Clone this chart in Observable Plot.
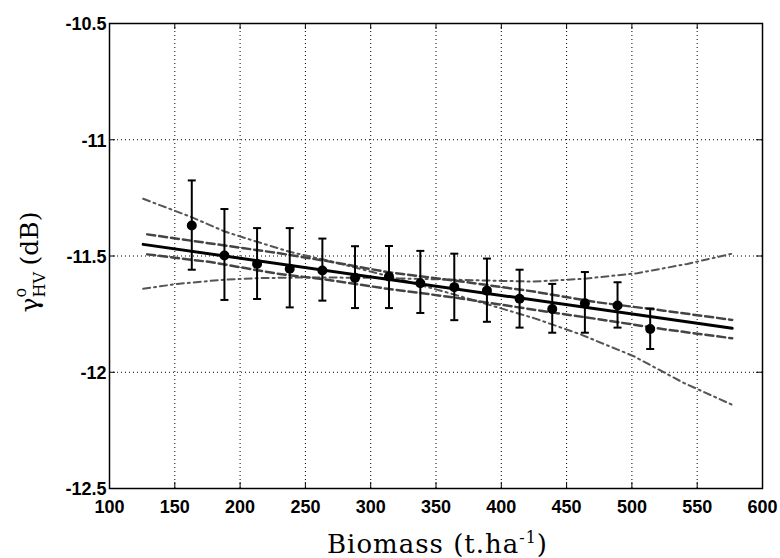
<!DOCTYPE html>
<html>
<head>
<meta charset="utf-8">
<script src="https://cdn.jsdelivr.net/npm/d3@7"></script>
<script src="https://cdn.jsdelivr.net/npm/@observablehq/plot@0.6"></script>
<style>
  html, body { margin: 0; padding: 0; background: #fff; }
</style>
</head>
<body>
<div id="chart"></div>
<script>
// ---- data ----
const xTicks = [100, 150, 200, 250, 300, 350, 400, 450, 500, 550, 600];
const yTicks = [-12.5, -12, -11.5, -11, -10.5];
const yTickLabels = ["-12.5", "-12", "-11.5", "-11", "-10.5"];

// binned means with error bars
const biomass = [163, 188, 213, 238, 263, 288, 314, 338, 364, 389, 414, 439, 464, 489, 514];
const gamma   = [-11.369, -11.498, -11.534, -11.555, -11.562, -11.594, -11.588, -11.617, -11.634, -11.649, -11.684, -11.728, -11.703, -11.713, -11.814];
const errTop  = [-11.175, -11.298, -11.38, -11.38, -11.425, -11.458, -11.457, -11.478, -11.49, -11.511, -11.559, -11.62, -11.569, -11.613, -11.726];
const errBot  = [-11.559, -11.689, -11.685, -11.721, -11.692, -11.724, -11.724, -11.745, -11.776, -11.783, -11.808, -11.83, -11.83, -11.808, -11.9];

// regression line
const fitX = [125.8, 576.8];
const fitY = [-11.45, -11.811];

// confidence band (dashed)
const bandX     = [128.9, 177.3, 228.4, 266.7, 312.6, 363.6, 424.9, 473.4, 524.4, 576.8];
const bandUpper = [-11.407, -11.446, -11.487, -11.522, -11.569, -11.605, -11.653, -11.699, -11.735, -11.775];
const bandLower = [-11.493, -11.526, -11.576, -11.602, -11.641, -11.678, -11.731, -11.771, -11.815, -11.854];

// dash-dot curves
const ddFallX = [125.8, 162, 188.8, 213.1, 238.6, 266.7, 312.6, 363.6, 424.9, 460.6, 501.4, 539.7, 576.8];
const ddFallY = [-11.254, -11.331, -11.396, -11.439, -11.483, -11.519, -11.585, -11.665, -11.767, -11.837, -11.931, -12.046, -12.14];
const ddRiseX = [125.8, 151.8, 185, 215.6, 253.9, 300, 350, 400, 424.9, 463.2, 504.1, 542.4, 576.8];
const ddRiseY = [-11.641, -11.62, -11.603, -11.595, -11.592, -11.594, -11.6, -11.607, -11.61, -11.598, -11.574, -11.534, -11.49];

// ---- build tables ----
const points = biomass.map((b, i) => ({x: b, y: gamma[i], top: errTop[i], bot: errBot[i]}));
const fit = fitX.map((x, i) => ({x, y: fitY[i]}));
const upper = bandX.map((x, i) => ({x, y: bandUpper[i]}));
const lower = bandX.map((x, i) => ({x, y: bandLower[i]}));
const ddFall = ddFallX.map((x, i) => ({x, y: ddFallY[i]}));
const ddRise = ddRiseX.map((x, i) => ({x, y: ddRiseY[i]}));

const W = 780, H = 558;
const mL = 109, mR = 18, mT = 23, mB = 70;
const plotW = W - mL - mR, plotH = H - mT - mB;
const tickLen = 6;

const capSymbol = {
  draw(context, size) {
    const r = Math.sqrt(size / Math.PI);
    context.moveTo(-r, 0);
    context.lineTo(r, 0);
  }
};

const sans = "'Liberation Sans', Arial, Helvetica, sans-serif";
const serif = "'DejaVu Serif', 'Liberation Serif', serif";

const plot = Plot.plot({
  width: W,
  height: H,
  marginLeft: mL,
  marginRight: mR,
  marginTop: mT,
  marginBottom: mB,
  style: {background: "#fff", fontFamily: sans},
  x: {domain: [100, 600], ticks: xTicks},
  y: {domain: [-12.5, -10.5], ticks: yTicks},
  marks: [
    Plot.gridX(xTicks.slice(1, -1), {stroke: "#000", strokeOpacity: 1, strokeWidth: 1, strokeDasharray: "1,3"}),
    Plot.gridY(yTicks.slice(1, -1), {stroke: "#000", strokeOpacity: 1, strokeWidth: 1, strokeDasharray: "1,3"}),
    // inward ticks on all four sides
    Plot.tickX(xTicks, {x: d => d, insetTop: plotH - tickLen, stroke: "#000", strokeWidth: 1}),
    Plot.tickX(xTicks, {x: d => d, insetBottom: plotH - tickLen, stroke: "#000", strokeWidth: 1}),
    Plot.tickY(yTicks, {y: d => d, insetRight: plotW - tickLen, stroke: "#000", strokeWidth: 1}),
    Plot.tickY(yTicks, {y: d => d, insetLeft: plotW - tickLen, stroke: "#000", strokeWidth: 1}),
    Plot.frame({stroke: "#000", strokeWidth: 1.5}),
    // dash-dot curves
    Plot.line(ddFall, {x: "x", y: "y", stroke: "#555", strokeWidth: 2, strokeDasharray: "7,4,2,4"}),
    Plot.line(ddRise, {x: "x", y: "y", stroke: "#555", strokeWidth: 2, strokeDasharray: "7,4,2,4"}),
    // dashed band
    Plot.line(upper, {x: "x", y: "y", stroke: "#444", strokeWidth: 2.5, strokeDasharray: "8,4"}),
    Plot.line(lower, {x: "x", y: "y", stroke: "#444", strokeWidth: 2.5, strokeDasharray: "8,4"}),
    // error bars
    Plot.ruleX(points, {x: "x", y1: "bot", y2: "top", stroke: "#000", strokeWidth: 2}),
    Plot.dot(points, {x: "x", y: "top", symbol: capSymbol, r: 4, stroke: "#000", strokeWidth: 2, fill: "none"}),
    Plot.dot(points, {x: "x", y: "bot", symbol: capSymbol, r: 4, stroke: "#000", strokeWidth: 2, fill: "none"}),
    // fit line
    Plot.line(fit, {x: "x", y: "y", stroke: "#000", strokeWidth: 3}),
    // points
    Plot.dot(points, {x: "x", y: "y", r: 5, fill: "#000", stroke: "none"}),
    // axes labels
    Plot.axisX(xTicks, {tickSize: 0, tickPadding: 12, fontSize: 18, fontWeight: "bold", label: null, fill: "#000"}),
    Plot.axisY(yTicks, {tickSize: 0, tickPadding: 3, fontSize: 18, fontWeight: "bold", label: null, fill: "#000", dy: 1,
      tickFormat: d => yTickLabels[yTicks.indexOf(d)]})
  ]
});

document.getElementById("chart").appendChild(plot);

const svg = d3.select(plot);

// x axis label
const xl = svg.append("text")
  .attr("x", 437.5).attr("y", 553)
  .attr("text-anchor", "middle")
  .attr("fill", "#000")
  .style("font-family", serif)
  .style("font-size", "26px")
  .style("letter-spacing", "1px");
xl.append("tspan").text("Biomass (t.ha");
xl.append("tspan").attr("dy", -10).style("font-size", "16px").text("-1");
xl.append("tspan").attr("dy", 10).text(")");

// y axis label: gamma with stacked superscript o and subscript HV
const yl = svg.append("text")
  .attr("transform", "translate(38,262) rotate(-90)")
  .attr("text-anchor", "middle")
  .attr("fill", "#000")
  .style("font-family", serif)
  .style("font-size", "25px");
yl.append("tspan").text("γ");
const sub = yl.append("tspan").attr("dy", 7).style("font-size", "16px").text("HV");
const sup = yl.append("tspan").style("font-size", "16px").text("o");
const rest = yl.append("tspan").text(" (dB)");
const subW = sub.node().getComputedTextLength();
const supW = sup.node().getComputedTextLength();
sup.attr("dx", -subW).attr("dy", -19);
rest.attr("dx", Math.max(0, subW - supW)).attr("dy", 12);
</script>
</body>
</html>
